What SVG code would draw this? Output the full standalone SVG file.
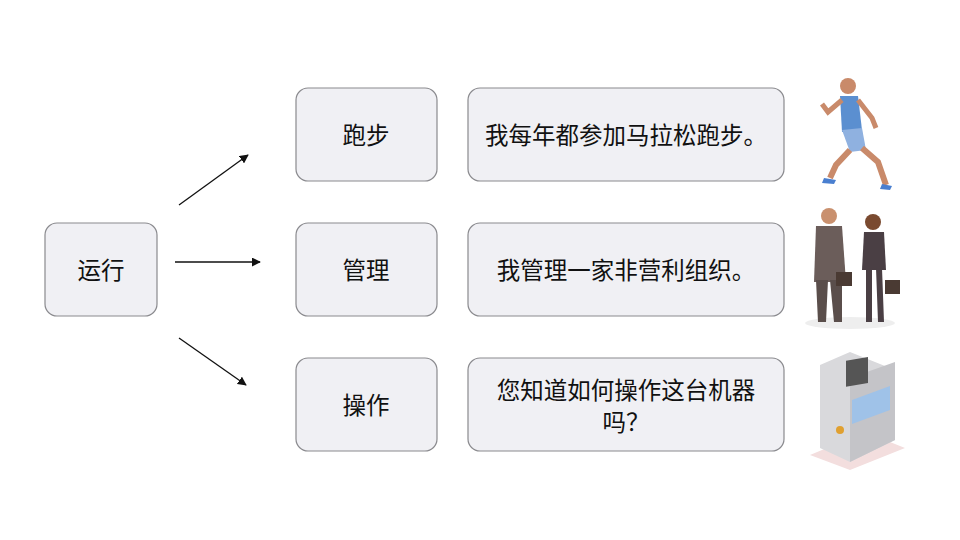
<svg xmlns="http://www.w3.org/2000/svg" width="960" height="540" viewBox="0 0 960 540">
<style>
.box{fill:#f0f0f4;stroke:#8a8a8e;stroke-width:1.2}
.t{font-family:"Noto Sans CJK SC",sans-serif;font-size:23.5px;fill:#111;text-anchor:middle;dominant-baseline:central}
.c{stroke:#111;stroke-width:1.3;fill:none;marker-end:url(#ah)}
</style>
<defs><marker id="ah" viewBox="0 0 10 10" refX="9" refY="5" markerWidth="9" markerHeight="9" markerUnits="userSpaceOnUse" orient="auto"><path d="M0,0L10,5L0,10z" fill="#111"/></marker></defs>
<rect width="960" height="540" fill="#fff"/>
<g id="n-run"><rect class="box" x="45" y="223" width="112" height="93" rx="12"/><text class="t" x="101" y="269">运行</text></g>
<g id="n-paobu"><rect class="box" x="296" y="88" width="141" height="93" rx="12"/><text class="t" x="366" y="134">跑步</text></g>
<g id="n-guanli"><rect class="box" x="296" y="223" width="141" height="93" rx="12"/><text class="t" x="366" y="269">管理</text></g>
<g id="n-caozuo"><rect class="box" x="296" y="358" width="141" height="93" rx="12"/><text class="t" x="366" y="404">操作</text></g>
<g id="s1"><rect class="box" x="468" y="88" width="316" height="93" rx="12"/><text class="t" x="626" y="134">我每年都参加马拉松跑步。</text></g>
<g id="s2"><rect class="box" x="468" y="223" width="316" height="93" rx="12"/><text class="t" x="626" y="269">我管理一家非营利组织。</text></g>
<g id="s3"><rect class="box" x="468" y="358" width="316" height="93" rx="12"/><text class="t" x="626" y="389">您知道如何操作这台机器</text><text class="t" x="626" y="421">吗？</text></g>
<g id="connectors">
<line class="c" x1="179" y1="205" x2="248" y2="155"/>
<line class="c" x1="175" y1="262" x2="260" y2="262"/>
<line class="c" x1="179" y1="338" x2="246" y2="385"/>
</g>
<g id="runner">
<circle cx="848" cy="86" r="8" fill="#c98a6a"/>
<path d="M840,96 L858,96 L862,130 L842,132 Z" fill="#5b8fd0"/>
<path d="M842,130 L862,128 L866,150 L850,152 Z" fill="#8fb1e0"/>
<path d="M850,150 L836,165 L830,178" stroke="#c98a6a" stroke-width="6" fill="none"/>
<path d="M862,148 L878,162 L886,185" stroke="#c98a6a" stroke-width="6" fill="none"/>
<path d="M842,100 L828,112 L822,104" stroke="#c98a6a" stroke-width="5" fill="none"/>
<path d="M858,100 L872,118 L876,128" stroke="#c98a6a" stroke-width="5" fill="none"/>
<path d="M824,178 L836,180 L834,184 L822,183 Z" fill="#4a7fd0"/>
<path d="M882,184 L892,186 L890,190 L880,189 Z" fill="#4a7fd0"/>
</g>
<g id="people">
<ellipse cx="850" cy="323" rx="45" ry="6" fill="#eee"/>
<circle cx="829" cy="216" r="8" fill="#c9906e"/>
<path d="M816,226 L842,226 L846,282 L814,282 Z" fill="#6b5d5a"/>
<path d="M816,280 L828,280 L826,322 L818,322 Z M830,280 L842,280 L842,322 L834,322 Z" fill="#5a4e4b"/>
<circle cx="873" cy="222" r="8" fill="#7a4a30"/>
<path d="M864,232 L884,232 L886,270 L862,270 Z" fill="#4a3f44"/>
<path d="M866,268 L872,268 L872,322 L866,322 Z M876,268 L882,268 L884,322 L878,322 Z" fill="#4a3f44"/>
<rect x="836" y="272" width="16" height="14" fill="#4a3a33"/>
<rect x="885" y="280" width="15" height="14" fill="#4a3a33"/>
</g>
<g id="machine">
<path d="M810,455 L850,470 L905,448 L865,432 Z" fill="#f3dede"/>
<path d="M820,365 L850,352 L895,370 L895,440 L850,462 L820,448 Z" fill="#d9d9dc"/>
<path d="M850,378 L895,362 L895,440 L850,462 Z" fill="#c4c4c8"/>
<rect x="846" y="360" width="22" height="26" fill="#555" transform="skewY(-10) translate(0,150)"/>
<path d="M852,400 L890,386 L890,410 L852,424 Z" fill="#9fc2e8"/>
<circle cx="840" cy="430" r="4" fill="#e0a030"/>
</g>
</svg>
